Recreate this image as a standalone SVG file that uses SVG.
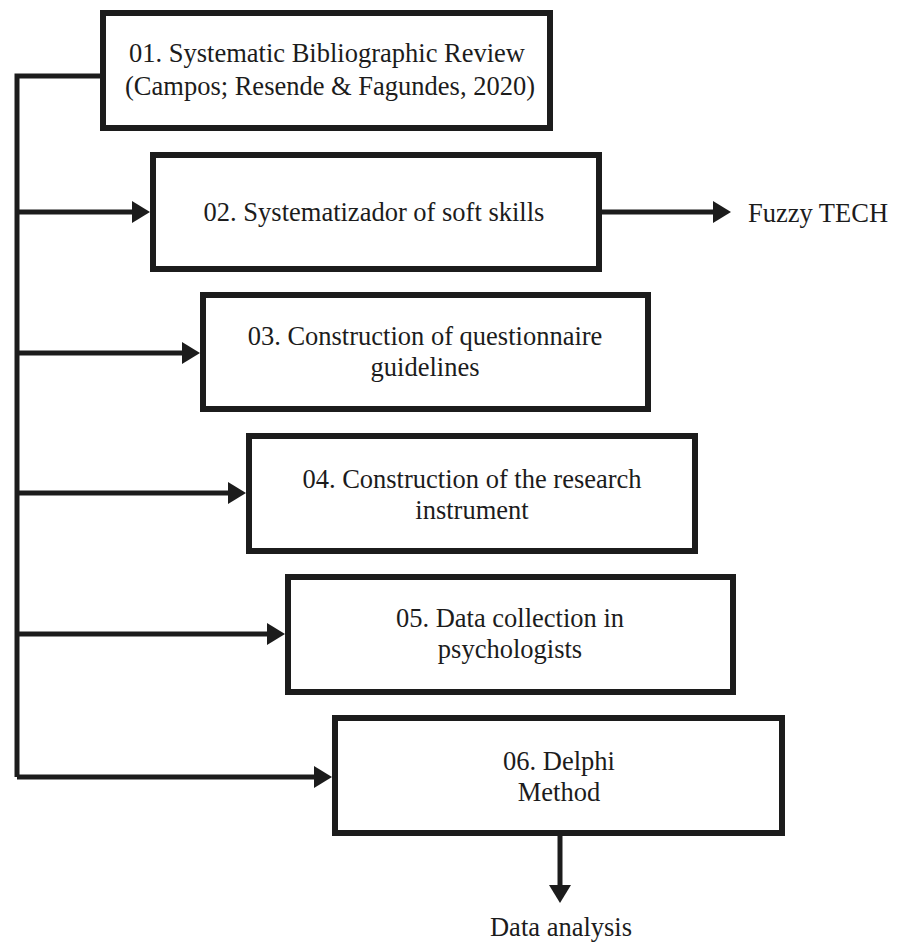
<svg xmlns="http://www.w3.org/2000/svg" width="902" height="945" viewBox="0 0 902 945">
<style>
.box{fill:#ffffff;stroke:#1c1c1c;stroke-width:6}
.t{font-family:"Liberation Serif","Times New Roman",serif;font-size:26.5px;fill:#1c1c1c;text-anchor:middle}
.c{fill:none;stroke:#1c1c1c;stroke-width:5;marker-end:url(#ah)}
.p{fill:none;stroke:#1c1c1c;stroke-width:5}
</style>
<defs>
<marker id="ah" markerUnits="userSpaceOnUse" markerWidth="18" markerHeight="22" refX="2" refY="11" orient="auto">
<path d="M0,0 L18,11 L0,22 z" fill="#1c1c1c"/>
</marker>
</defs>
<rect x="0" y="0" width="902" height="945" fill="#ffffff"/>
<g id="connectors">
<path class="p" d="M100,76 H17 V777"/>
<path class="c" d="M17,777 H316"/>
<path class="c" d="M17,212 H134"/>
<path class="c" d="M17,353 H184"/>
<path class="c" d="M17,493 H230"/>
<path class="c" d="M17,634 H269"/>
<path class="c" d="M602,212 H715"/>
<path class="c" d="M560,836 V887"/>
</g>
<g id="n1"><rect class="box" x="103" y="13" width="447" height="115"/>
<text class="t" x="327" y="62">01. Systematic Bibliographic Review</text>
<text class="t" x="330" y="95">(Campos; Resende &amp; Fagundes, 2020)</text></g>
<g id="n2"><rect class="box" x="153" y="155" width="446" height="114"/>
<text class="t" x="374" y="221">02. Systematizador of soft skills</text></g>
<g id="n3"><rect class="box" x="203" y="295" width="445" height="114"/>
<text class="t" x="425" y="345">03. Construction of questionnaire</text>
<text class="t" x="425" y="376">guidelines</text></g>
<g id="n4"><rect class="box" x="249" y="436" width="446" height="115"/>
<text class="t" x="472" y="488">04. Construction of the research</text>
<text class="t" x="472" y="519">instrument</text></g>
<g id="n5"><rect class="box" x="288" y="577" width="445" height="115"/>
<text class="t" x="510" y="627">05. Data collection in</text>
<text class="t" x="510" y="658">psychologists</text></g>
<g id="n6"><rect class="box" x="335" y="718" width="447" height="115"/>
<text class="t" x="559" y="770">06. Delphi</text>
<text class="t" x="559" y="801">Method</text></g>
<g id="fuzzy"><text class="t" x="818" y="222">Fuzzy TECH</text></g>
<g id="data"><text class="t" x="561" y="936">Data analysis</text></g>
</svg>
